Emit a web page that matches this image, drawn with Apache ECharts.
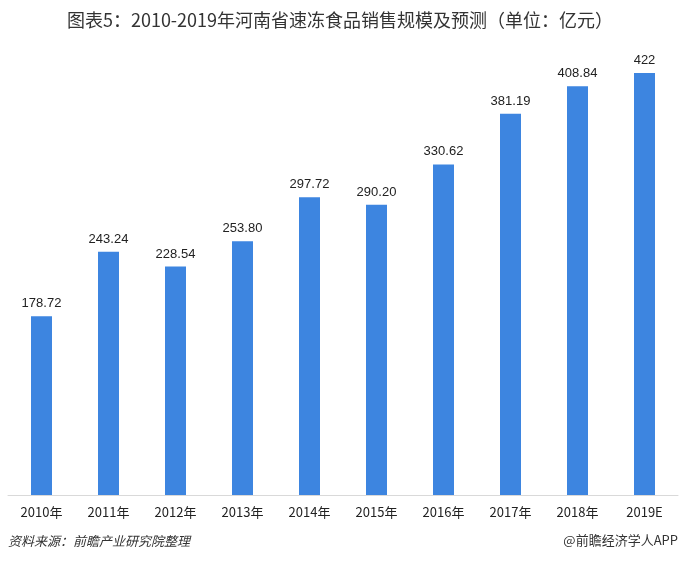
<!DOCTYPE html>
<html>
<head>
<meta charset="utf-8">
<script src="https://cdn.jsdelivr.net/npm/echarts@6/dist/echarts.min.js"></script>
<style>
  html, body { margin: 0; padding: 0; background: #fff; }
  #chart { width: 680px; height: 565px; }
</style>
</head>
<body>
<div id="chart"></div>
<script>
// 年份与销售规模（亿元）
const years = ['2010年', '2011年', '2012年', '2013年', '2014年', '2015年', '2016年', '2017年', '2018年', '2019E'];
const sales = [178.72, 243.24, 228.54, 253.80, 297.72, 290.20, 330.62, 381.19, 408.84, 422];
const salesLabels = ['178.72', '243.24', '228.54', '253.80', '297.72', '290.20', '330.62', '381.19', '408.84', '422'];

const chart = echarts.init(document.getElementById('chart'));
chart.setOption({
    backgroundColor: '#ffffff',
    animation: false,
    title: {
        text: '图表5：2010-2019年河南省速冻食品销售规模及预测（单位：亿元）',
        left: 'center',
        top: 6,
        textStyle: {
            color: '#333',
            fontSize: 18,
            fontWeight: 'normal',
            fontFamily: 'Noto Sans CJK SC'
        }
    },
    grid: {
        left: 8,
        right: 2,
        top: 45,
        bottom: 70
    },
    xAxis: {
        type: 'category',
        data: years,
        axisTick: { show: false },
        axisLine: { lineStyle: { color: '#d9d9d9', width: 1 } },
        axisLabel: {
            color: '#222',
            fontSize: 13,
            margin: 11,
            fontFamily: 'Noto Sans CJK SC'
        }
    },
    yAxis: {
        type: 'value',
        min: 0,
        max: 450,
        show: false,
        splitLine: { show: false }
    },
    series: [{
        type: 'bar',
        data: sales,
        barWidth: 21,
        itemStyle: { color: '#3d85e0' },
        label: {
            show: true,
            position: 'top',
            distance: 6,
            color: '#222',
            fontSize: 13,
            fontFamily: 'Liberation Sans',
            formatter: p => salesLabels[p.dataIndex]
        }
    }],
    graphic: [
        {
            type: 'text',
            left: 8,
            top: 535,
            style: {
                text: '资料来源：前瞻产业研究院整理',
                fill: '#333',
                fontSize: 13,
                fontStyle: 'italic',
                fontFamily: 'Noto Sans CJK SC'
            }
        },
        {
            type: 'text',
            right: 2,
            top: 534,
            style: {
                text: '@前瞻经济学人APP',
                fill: '#333',
                fontSize: 13,
                fontFamily: 'Noto Sans CJK SC'
            }
        }
    ]
});
</script>
</body>
</html>
